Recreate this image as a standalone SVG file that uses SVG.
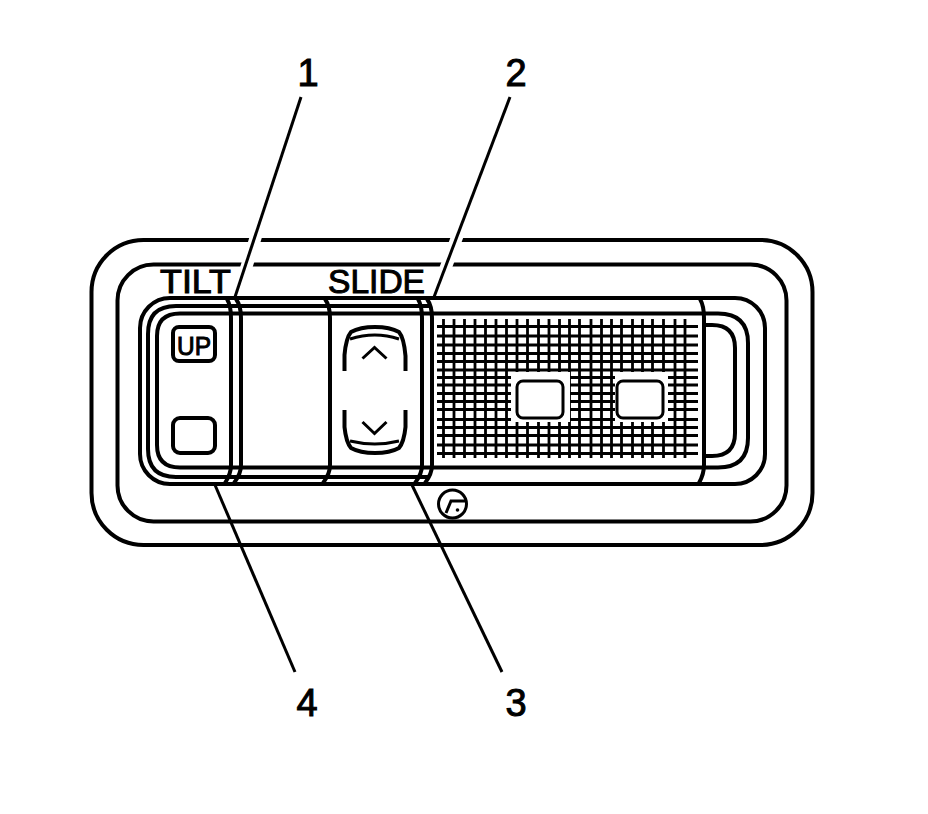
<svg xmlns="http://www.w3.org/2000/svg" width="928" height="814" viewBox="0 0 928 814">
<style>
.l{fill:none;stroke:#000;stroke-width:4}
.m{fill:none;stroke:#000;stroke-width:3}
.g{fill:none;stroke:#000;stroke-width:2.800}
.h{fill:#fff;stroke:none}
.t{font-family:"Liberation Sans",Arial,sans-serif;fill:#000;stroke:#000;stroke-width:1}
.n{font-size:38px;text-anchor:middle}
.c{font-size:33px}
</style>
<rect width="928" height="814" fill="#fff"/>
<g id="bezel">
<rect class="l" x="91.500" y="240" width="721" height="305" rx="52"/>
<rect class="l" x="117.500" y="264.500" width="669" height="257" rx="36"/>
</g>
<g id="housing">
<rect class="l" x="140" y="298" width="625" height="186" rx="30"/>
<path class="l" d="M430 306H176Q148 306 148 334V449Q148 477 176 477H430"/>
<path class="l" d="M180 313.500H718Q748 313.500 748 343V438Q748 467.500 718 467.500H180Q157 467.500 157 445V336Q157 313.500 180 313.500Z"/>
<path class="l" d="M704 325H712Q735 325 735 348V433Q735 456 712 456H704"/>
</g>
<g id="bands">
<path class="l" d="M227 299Q231 306 231 318V465Q231 474 225 483"/>
<path class="l" d="M236 299Q241 306 241 318V465Q241 474 234 483"/>
<path class="l" d="M325 299Q330 306 330 318V465Q330 474 323 483"/>
<path class="l" d="M418 299Q422 306 422 318V465Q422 474 415 483"/>
<path class="l" d="M427 299Q432 306 432 318V465Q432 474 425 483"/>
<path class="l" d="M700 299Q704 306 704 318V465Q704 474 699 483"/>
</g>
<g id="grid">
<path class="g" d="M443.500 319V458M454 319V458M464.500 319V458M475 319V458M485.500 319V458M496 319V458M506.500 319V458M517 319V458M527.500 319V458M538.500 319V458M549 319V458M559.500 319V458M569.500 319V458M579.500 319V458M591 319V458M601.500 319V458M611.500 319V458M621.500 319V458M632.500 319V458M642.500 319V458M652.500 319V458M663.500 319V458M675 319V458M685 319V458"/>
<path class="g" d="M437 326.500H698M437 336H698M437 345H698M437 353.500H698M437 361.500H698M437 370H698M437 377.500H698M437 385H698M437 393.500H698M437 401.500H698M437 409.500H698M437 419.500H698M437 427.500H698M437 435.500H698M437 445H698M437 453.500H698"/>
<rect class="h" x="511" y="372" width="59" height="50"/>
<rect class="h" x="615" y="372" width="53" height="50"/>
</g>
<g id="window-1"><rect class="m" x="517" y="381" width="46" height="37" rx="6"/></g>
<g id="window-2"><rect class="m" x="617" y="381" width="46" height="37" rx="6"/></g>
<g id="up-button">
<rect class="l" x="173" y="327" width="42" height="34" rx="6"/>
<text class="t" x="194" y="355" font-size="26" text-anchor="middle" textLength="34" lengthAdjust="spacingAndGlyphs">UP</text>
</g>
<g id="down-button"><rect class="l" x="173" y="418" width="42" height="35" rx="7"/></g>
<g id="rocker">
<path class="l" d="M344.500 371V355Q346 338 351 332Q360 327 375 327Q390 327 399 332Q404 338 405.500 356V371"/>
<path class="m" d="M350 339Q375 331 399 339"/>
<path class="m" d="M362.500 358.500L374.500 347.500L386.500 358.500"/>
<path class="l" d="M344.500 410V427Q346 442 351 448Q360 453 375 453Q390 453 399 448Q404 442 405.500 427V410"/>
<path class="m" d="M350 441Q375 447 399 441"/>
<path class="m" d="M362.500 422L374.500 433.500L386.500 422"/>
</g>
<g id="logo">
<circle class="m" cx="452.500" cy="504" r="14"/>
<path class="m" d="M446 513L451 501H465"/>
<circle cx="457.500" cy="510" r="1.800"/>
</g>
<g id="connectors">
<path d="M298 102L238 294" fill="none" stroke="#fff" stroke-width="12"/>
<path d="M507 102L436 294" fill="none" stroke="#fff" stroke-width="12"/>
<path class="m" d="M301 97L235 297"/>
<path class="m" d="M510 97L434 297"/>
<path class="m" d="M215 485L295 672"/>
<path class="m" d="M412 485L502 672"/>
</g>
<g id="labels">
<text class="t c" x="160" y="293" textLength="71" lengthAdjust="spacingAndGlyphs">TILT</text>
<text class="t c" x="328" y="293" textLength="97" lengthAdjust="spacingAndGlyphs">SLIDE</text>
<text class="t n" x="308" y="86">1</text>
<text class="t n" x="516" y="86">2</text>
<text class="t n" x="516" y="716">3</text>
<text class="t n" x="307" y="716">4</text>
</g>
</svg>
